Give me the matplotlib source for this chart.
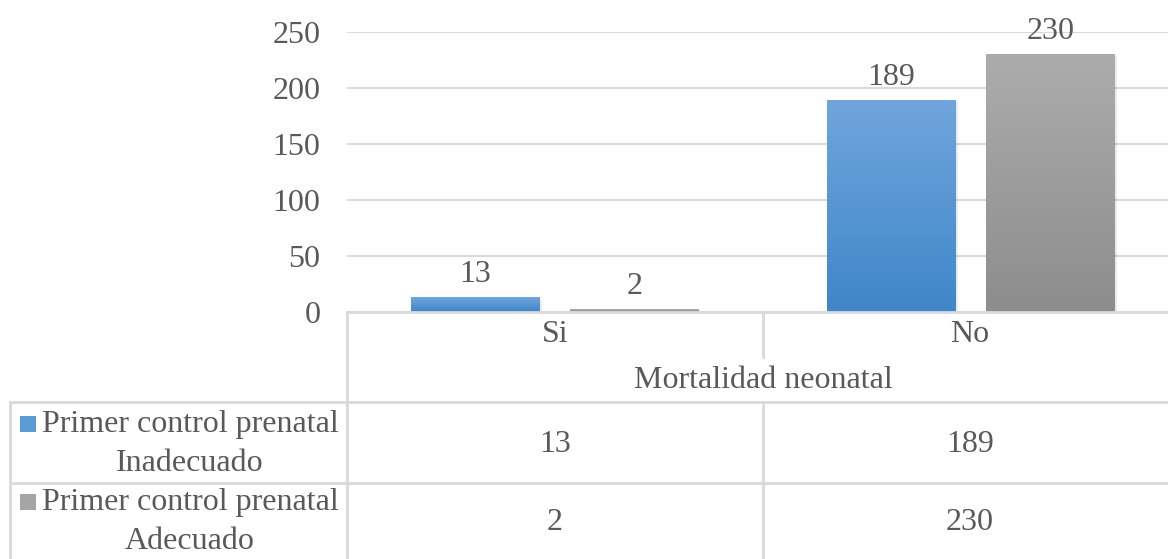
import numpy as np
import matplotlib.pyplot as plt
import matplotlib.patheffects as pe
from matplotlib.colors import LinearSegmentedColormap

plt.rcParams['font.family'] = ['Liberation Serif', 'DejaVu Serif']

categories = ['Si', 'No']
group_title = 'Mortalidad neonatal'
series_names = ['Primer control prenatal\nInadecuado', 'Primer control prenatal\nAdecuado']
inadecuado = [13, 189]
adecuado = [2, 230]
series_values = [inadecuado, adecuado]

# gradient top -> bottom for each series
grad_colors = [('#70A5DC', '#3F87C9'), ('#ACACAC', '#8D8D8D')]
solid_colors = ['#5B9BD5', '#A5A5A5']
text_col = '#595959'
line_col = '#D9D9D9'
fs = 23

W, H = 1168, 559
fig = plt.figure(figsize=(W / 100, H / 100), dpi=100)

# main plot area in pixel coordinates (extends slightly past the right edge)
x0, x1 = 347, 1179
y_top, y_zero = 32, 312
ax = fig.add_axes([x0 / W, 1 - y_zero / H, (x1 - x0) / W, (y_zero - y_top) / H])
ax.set_xlim(-0.5, 1.5)
ax.set_ylim(0, 250)
ax.set_yticks(np.arange(0, 251, 50))
ax.set_xticks([])
ax.tick_params(axis='y', length=0, labelsize=fs, labelcolor=text_col, pad=19)
ax.grid(axis='y', color=line_col, linewidth=1.5)
ax.set_axisbelow(True)
for s in ax.spines.values():
    s.set_visible(False)

idx = np.arange(len(categories))
offset = 0.191
bar_w = 0.31
for k, vals in enumerate(series_values):
    xs = idx + (-offset if k == 0 else offset)
    bars = ax.bar(xs, vals, bar_w, color=solid_colors[k], zorder=2,
                  path_effects=[pe.SimplePatchShadow(offset=(1.5, -1.5), shadow_rgbFace='#000000', alpha=0.08),
                                pe.Normal()])
    cmap = LinearSegmentedColormap.from_list('g%d' % k, [grad_colors[k][1], grad_colors[k][0]])
    for b, v in zip(bars, vals):
        grad = np.linspace(0, 1, 100).reshape(-1, 1)
        ax.imshow(grad, cmap=cmap, aspect='auto', origin='lower', zorder=3,
                  extent=(b.get_x(), b.get_x() + b.get_width(), 0, v))
        ax.annotate(str(v), (b.get_x() + b.get_width() / 2, v), xytext=(0, 6),
                    textcoords='offset points', ha='center', va='bottom',
                    fontsize=fs, color=text_col)
ax.set_xlim(-0.5, 1.5)
ax.set_ylim(0, 250)


# data table below the plot, drawn in figure pixel coordinates
def fx(px):
    return px / W


def fy(py):
    return 1 - py / H


def hline(y, xa, xb):
    fig.add_artist(plt.Line2D([fx(xa), fx(xb)], [fy(y), fy(y)], color=line_col, lw=2))


def vline(x, ya, yb):
    fig.add_artist(plt.Line2D([fx(x), fx(x)], [fy(ya), fy(yb)], color=line_col, lw=2))


hline(312, 347, W)
hline(402, 10, W)
hline(483, 10, W)
vline(347, 312, H)
vline(10, 402, H)
vline(763, 312, 357)
vline(763, 402, H)

cat_px = [555, 970]
for c, xp in zip(categories, cat_px):
    fig.text(fx(xp), fy(335), c, ha='center', va='center', fontsize=fs, color=text_col)
fig.text(fx(763), fy(381), group_title, ha='center', va='center', fontsize=fs, color=text_col)

row_y = [444, 522]
for k, (name, vals) in enumerate(zip(series_names, series_values)):
    ry = row_y[k]
    fig.text(fx(190), fy(ry), name, ha='center', va='center', fontsize=fs,
             color=text_col, linespacing=1.45, multialignment='center')
    sq_top = ry - 28
    fig.add_artist(plt.Rectangle((fx(20), fy(sq_top + 16)), 16 / W, 16 / H,
                                 color=solid_colors[k], lw=0))
    for v, xp in zip(vals, cat_px):
        fig.text(fx(xp), fy(ry), str(v), ha='center', va='center', fontsize=fs, color=text_col)

fig.savefig('out.png', dpi=100)
